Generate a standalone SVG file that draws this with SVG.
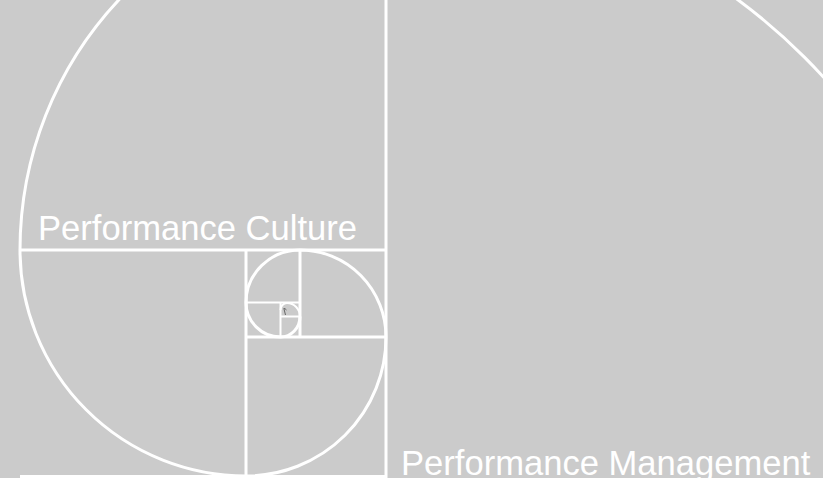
<svg xmlns="http://www.w3.org/2000/svg" width="823" height="478" viewBox="0 0 823 478">
<style>
.ln{stroke:#ffffff;stroke-width:3;fill:none}
.thin{stroke:#ffffff;stroke-width:2;fill:none}
.sp{stroke:#ffffff;stroke-width:3;fill:none}
.lbl{font-family:"Liberation Sans",Arial,sans-serif;font-size:34.6px;fill:#ffffff}
</style>
<rect x="0" y="0" width="823" height="478" fill="#cbcbcb"/>
<g id="grid">
<line class="ln" x1="386" y1="0" x2="386" y2="478"/>
<line class="ln" x1="20" y1="250" x2="386" y2="250"/>
<line class="ln" x1="20" y1="476.5" x2="386" y2="476.5"/>
<line class="ln" x1="246" y1="250" x2="246" y2="478"/>
<line class="ln" x1="246" y1="337" x2="386" y2="337"/>
<line class="ln" x1="300" y1="250" x2="300" y2="337"/>
<line class="thin" x1="246" y1="302.5" x2="300" y2="302.5"/>
<line class="thin" x1="280.5" y1="302.5" x2="280.5" y2="337"/>
<line class="thin" x1="280.5" y1="316.5" x2="300" y2="316.5"/>
</g>
<g id="spiral">
<path class="sp" d="M978,476 A592,592 0 0 0 386,-116 A366,366 0 0 0 20,250 A226,226 0 0 0 246,476 A140,139 0 0 0 386,337 A86,87 0 0 0 300,250 A54,52.5 0 0 0 246,302.5 A34.5,34.5 0 0 0 280.5,337 A19.5,20.5 0 0 0 300,316.5"/>
<path class="thin" d="M300,316.5 A13,13.5 0 0 0 287,303 A6.5,7 0 0 0 280.5,310"/>
<path d="M283.5,308.5 Q285,308 286.5,310 M284,309 L285.5,315" stroke="#666666" stroke-width="1" fill="none"/>
</g>
<g id="labels">
<text class="lbl" x="38" y="240">Performance Culture</text>
<text class="lbl" x="401" y="474.5">Performance Management</text>
</g>
</svg>
